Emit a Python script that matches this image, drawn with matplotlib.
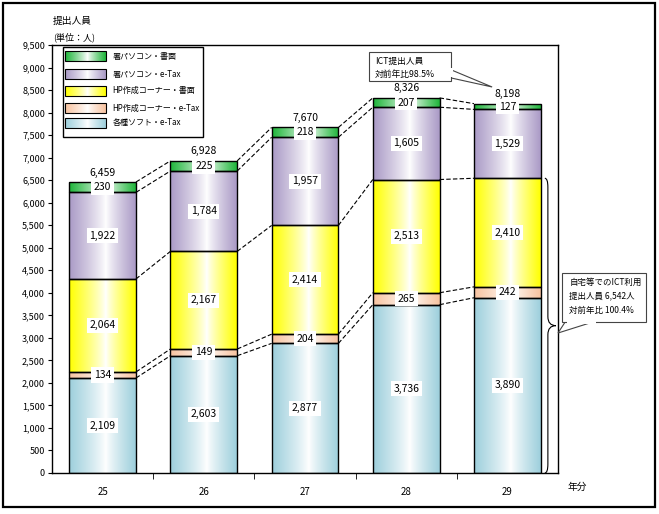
import numpy as np
import matplotlib
matplotlib.use("Agg")
import matplotlib.pyplot as plt
import matplotlib.colors as mcolors
from matplotlib.patches import Rectangle, Polygon, PathPatch
from matplotlib.path import Path
from matplotlib.ticker import FuncFormatter, MultipleLocator, FixedLocator

plt.rcParams['font.family'] = ['Noto Sans CJK JP', 'DejaVu Sans']

# ---- data ----
years = ["25", "26", "27", "28", "29"]
series_names = ["各種ソフト・e-Tax", "HP作成コーナー・e-Tax", "HP作成コーナー・書面",
                "署パソコン・e-Tax", "署パソコン・書面"]
soft_etax = [2109, 2603, 2877, 3736, 3890]
hp_etax = [134, 149, 204, 265, 242]
hp_paper = [2064, 2167, 2414, 2513, 2410]
office_etax = [1922, 1784, 1957, 1605, 1529]
office_paper = [230, 225, 218, 207, 127]
totals = [6459, 6928, 7670, 8326, 8198]
colors = ["#9dcfdc", "#f8c3a0", "#ffff00", "#aa9ac6", "#1eb53a"]

series = [soft_etax, hp_etax, hp_paper, office_etax, office_paper]

fig = plt.figure(figsize=(6.59, 5.14), dpi=100)
ax = fig.add_axes([52/659, 1-473/514, (558-52)/659, (473-45)/514])

x = np.arange(len(years))
width = 0.66


def grad_img(color, n=256):
    c = np.array(mcolors.to_rgb(color))
    t = np.linspace(0, 1, n)
    mid = 0.55
    w = np.where(t < mid, (mid - t) / mid, (t - mid) / (1 - mid))
    w = w ** 0.85
    rgb = 1 - w[:, None] * (1 - c)
    return rgb[None, :, :]


bottom = np.zeros(len(years))
tops = []
for vals, col in zip(series, colors):
    vals = np.array(vals, dtype=float)
    bars = ax.bar(x, vals, width, bottom=bottom, facecolor='none',
                  edgecolor='black', linewidth=1.0, zorder=3)
    img = grad_img(col)
    for p in bars.patches:
        x0, y0 = p.get_x(), p.get_y()
        im = ax.imshow(img, extent=[x0, x0 + p.get_width(), y0, y0 + p.get_height()],
                       aspect='auto', zorder=2, interpolation='bilinear')
        im.set_clip_path(p)
    for xi, b, v in zip(x, bottom, vals):
        ax.text(xi, b + v / 2, f"{int(v):,}", ha='center', va='center', fontsize=7.5,
                zorder=5, bbox=dict(boxstyle='square,pad=0.25', fc='white', ec='none'))
    bottom = bottom + vals
    tops.append(bottom.copy())

# dashed connectors
for top in tops:
    for i in range(len(years) - 1):
        ax.plot([x[i] + width / 2, x[i + 1] - width / 2], [top[i], top[i + 1]],
                ls=(0, (4, 2)), color='black', lw=0.8, zorder=4)

# totals
for xi, t in zip(x, totals):
    ax.text(xi, t + 210, f"{t:,}", ha='center', va='center', fontsize=7.5, zorder=5)

ax.set_xlim(-0.5, 4.5)
ax.set_ylim(0, 9500)
ax.yaxis.set_major_locator(MultipleLocator(500))
ax.yaxis.set_major_formatter(FuncFormatter(lambda v, p: f"{int(v):,}"))
ax.set_xticks(x)
ax.set_xticklabels(years)
ax.xaxis.set_minor_locator(FixedLocator([0.5, 1.5, 2.5, 3.5]))
ax.tick_params(axis='x', which='major', length=0, pad=10, labelsize=7)
ax.tick_params(axis='x', which='minor', length=4, direction='out')
ax.tick_params(axis='y', length=3, direction='out', labelsize=6.5, pad=2)
for s in ax.spines.values():
    s.set_linewidth(1.0)

# legend (manual)
leg_box = Rectangle((0.0217, 0.785), 0.277, 0.21, transform=ax.transAxes,
                    fc='white', ec='black', lw=1.0, zorder=6)
ax.add_patch(leg_box)
row_y = [0.818, 0.853, 0.893, 0.932, 0.974]
for name, col, ry in zip(series_names, colors, row_y):
    hx0, hx1, hh = 0.026, 0.107, 0.022
    r = Rectangle((hx0, ry - hh / 2), hx1 - hx0, hh, transform=ax.transAxes,
                  fc='none', ec='black', lw=0.8, zorder=8)
    ax.add_patch(r)
    im = ax.imshow(grad_img(col), extent=[hx0, hx1, ry - hh / 2, ry + hh / 2],
                   transform=ax.transAxes, aspect='auto', zorder=7)
    ax.text(0.12, ry, name, transform=ax.transAxes, fontsize=5.8, va='center',
            ha='left', zorder=8)

ax.set_xlim(-0.5, 4.5)
ax.set_ylim(0, 9500)

# callout 1
ax.add_patch(Polygon([(3.40, 8990), (3.849, 8568), (3.40, 8790)], closed=True,
                     fc='white', ec='#444444', lw=0.8, zorder=6))
ax.add_patch(Rectangle((2.636, 8701), 3.445 - 2.636, 9345 - 8701, fc='white',
                       ec='#444444', lw=0.8, zorder=7))
ax.add_patch(Rectangle((3.40, 8800), 0.06, 180, fc='white', ec='none', zorder=7.5))
ax.text(2.69, 9145, "ICT提出人員", fontsize=6.3, va='center', zorder=8)
ax.text(2.69, 8856, "対前年比98.5%", fontsize=6.3, va='center', zorder=8)

# brace
yb = tops[2][-1]
ym = yb / 2
verts = [(4.37, yb), (4.40, yb), (4.40, yb - 200),
         (4.40, ym + 200),
         (4.40, ym), (4.48, ym),
         (4.40, ym), (4.40, ym - 200),
         (4.40, 200),
         (4.40, 0), (4.37, 0)]
codes = [Path.MOVETO, Path.CURVE3, Path.CURVE3, Path.LINETO,
         Path.CURVE3, Path.CURVE3, Path.CURVE3, Path.CURVE3,
         Path.LINETO, Path.CURVE3, Path.CURVE3]
ax.add_patch(PathPatch(Path(verts, codes), fc='none', ec='black', lw=0.8,
                       clip_on=False, zorder=6))

# callout 2
ax.add_patch(Polygon([(4.579, 3380), (4.50, 3107), (4.885, 3380)], closed=True,
                     fc='white', ec='#444444', lw=0.8, zorder=6, clip_on=False))
ax.add_patch(Rectangle((4.54, 3351), 5.368 - 4.54, 4439 - 3351, fc='white',
                       ec='#444444', lw=0.8, zorder=7, clip_on=False))
ax.add_patch(Rectangle((4.585, 3300), 0.295, 80, fc='white', ec='none',
                       zorder=7.5, clip_on=False))
ax.text(4.61, 4240, "自宅等でのICT利用", fontsize=6.1, va='center', zorder=8, clip_on=False)
ax.text(4.61, 3929, f"提出人員 {int(yb):,}人", fontsize=6.1, va='center', zorder=8, clip_on=False)
ax.text(4.61, 3618, "対前年比 100.4%", fontsize=6.1, va='center', zorder=8, clip_on=False)

# outer texts
fig.text(53/659, 1 - 21/514, "提出人員", fontsize=7, va='center', ha='left')
fig.text(53/659, 1 - 37/514, "(単位：人)", fontsize=6.5, va='center', ha='left')
fig.text(568/659, 1 - 487/514, "年分", fontsize=7, va='center', ha='left')

# outer border
fig.add_artist(Rectangle((3/659, 1 - 507/514), 652/659, 504/514,
                         transform=fig.transFigure, fc='none', ec='black', lw=1.6))

fig.savefig("out.png", dpi=100)
